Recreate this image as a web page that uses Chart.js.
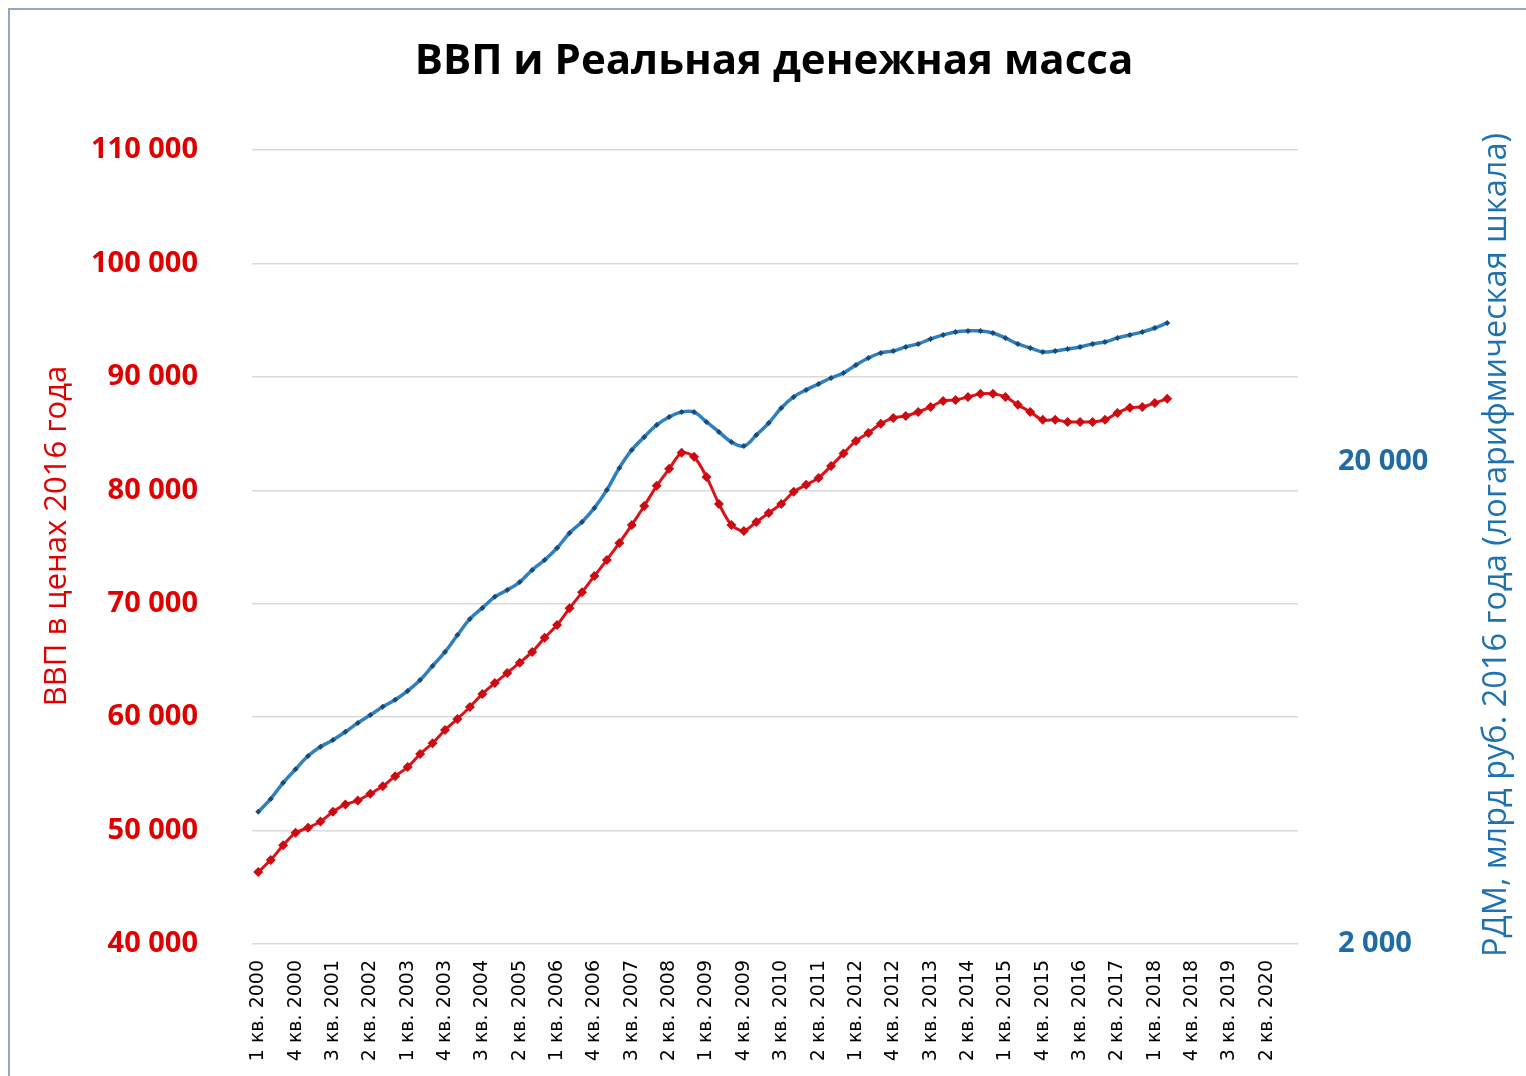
<!DOCTYPE html>
<html>
<head>
<meta charset="utf-8">
<script src="https://cdn.jsdelivr.net/npm/chart.js@4.4.1/dist/chart.umd.min.js"></script>
<style>
  html, body { margin: 0; padding: 0; background: #fff; }
  #wrap { position: relative; width: 1526px; height: 1076px; }
</style>
</head>
<body>
<div id="wrap"><canvas id="myChart" width="1526" height="1076"></canvas></div>
<script>
// quarters 1 кв. 2000 ... 4 кв. 2020
var years = [2000, 2001, 2002, 2003, 2004, 2005, 2006, 2007, 2008, 2009, 2010,
             2011, 2012, 2013, 2014, 2015, 2016, 2017, 2018, 2019, 2020];
var quarters = [];
years.forEach(function(y) {
  for (var q = 1; q <= 4; q++) quarters.push(q + ' кв. ' + y);
});

// ВВП, млрд руб. в ценах 2016 года (1 кв. 2000 - 2 кв. 2018)
var gdp = [
  46350, 47400, 48700, 49800, 50250, 50800, 51650, 52300, 52650, 53250,
  53900, 54800, 55600, 56750, 57700, 58870, 59840, 60900, 62050, 63000,
  63900, 64800, 65750, 67000, 68130, 69600, 71000, 72450, 73860, 75360,
  76950, 78620, 80390, 81890, 83300, 82950, 81180, 78800, 76950, 76420,
  77210, 78000, 78800, 79860, 80480, 81090, 82150, 83250, 84350, 85060,
  85860, 86380, 86560, 86900, 87350, 87880, 87970, 88230, 88500, 88500,
  88230, 87530, 86910, 86210, 86210, 86030, 86030, 86030, 86210, 86820,
  87270, 87350, 87700, 88060
];

// РДМ, млрд руб. 2016 года (логарифмическая шкала)
var rdm = [
  3760, 4000, 4320, 4610, 4910, 5130, 5300, 5510, 5750, 5970,
  6210, 6420, 6700, 7060, 7550, 8070, 8750, 9450, 9960, 10500,
  10850, 11270, 11940, 12520, 13260, 14250, 15020, 16060, 17500, 19440,
  21180, 22540, 23870, 24800, 25390, 25390, 24210, 23080, 22000, 21590,
  22750, 24090, 25880, 27290, 28210, 29030, 29880, 30600, 31790, 32870,
  33670, 33990, 34650, 35150, 36000, 36690, 37220, 37400, 37400, 37040,
  36170, 35150, 34480, 33830, 33990, 34320, 34650, 35150, 35480, 36170,
  36690, 37220, 37930, 38850
];

var leftTicks = [40000, 50000, 60000, 70000, 80000, 90000, 100000, 110000];
var rightTicks = [2000, 20000];

var RED = '#DC1219';
var BLUE = '#2E80C0';

function fmt(v) {
  return String(Math.round(v)).replace(/\B(?=(\d{3})+(?!\d))/g, ' ');
}

// frame, title and the two axis titles
var decor = {
  id: 'decor',
  afterDraw: function(chart) {
    var c = chart.ctx;
    c.save();
    c.strokeStyle = '#8EA9C1';
    c.lineWidth = 2;
    c.beginPath();
    c.moveTo(9, 1076);
    c.lineTo(9, 9);
    c.lineTo(1526, 9);
    c.stroke();

    c.fillStyle = '#000';
    c.textAlign = 'center';
    c.textBaseline = 'middle';
    c.font = 'bold 42px "Open Sans"';
    c.fillText('ВВП и Реальная денежная масса', 774, 62);
    c.restore();

    c.save();
    c.font = '31px "Open Sans"';
    c.textAlign = 'center';
    c.textBaseline = 'middle';
    c.fillStyle = '#E00000';
    c.translate(57, 536);
    c.rotate(-Math.PI / 2);
    c.fillText('ВВП в ценах 2016 года', 0, 0);
    c.restore();

    c.save();
    c.font = '32.5px "Open Sans"';
    c.textAlign = 'center';
    c.textBaseline = 'middle';
    c.fillStyle = '#1F72B0';
    c.translate(1497, 545);
    c.rotate(-Math.PI / 2);
    c.fillText('РДМ, млрд руб. 2016 года (логарифмическая шкала)', 0, 0);
    c.restore();
  }
};

var ctx = document.getElementById('myChart').getContext('2d');

var myChart = new Chart(ctx, {
  type: 'line',
  data: {
    labels: quarters,
    datasets: [{
      label: 'ВВП',
      data: gdp,
      yAxisID: 'y',
      borderColor: RED,
      backgroundColor: '#CC0A12',
      borderWidth: 3,
      pointStyle: 'rectRot',
      pointRadius: 5,
      pointBorderWidth: 0,
      pointBackgroundColor: '#CC0A12',
      tension: 0.3
    }, {
      label: 'РДМ',
      data: rdm,
      yAxisID: 'y1',
      borderColor: BLUE,
      backgroundColor: '#1A4A75',
      borderWidth: 3.5,
      pointStyle: 'rectRot',
      pointRadius: 3,
      pointBorderWidth: 0,
      pointBackgroundColor: '#1A4A75',
      tension: 0.4
    }]
  },
  options: {
    responsive: false,
    animation: false,
    layout: { padding: { top: 150, left: 0, right: 0, bottom: 0 } },
    plugins: {
      legend: { display: false },
      tooltip: { enabled: false },
      title: { display: false }
    },
    scales: {
      x: {
        offset: true,
        grid: { display: false, drawTicks: false },
        border: { display: false },
        ticks: {
          autoSkip: false,
          minRotation: 90,
          maxRotation: 90,
          padding: 16,
          color: '#000',
          font: { family: '"DejaVu Sans"', size: 19 },
          callback: function(value, index) {
            return index % 3 === 0 ? this.getLabelForValue(value) : '';
          }
        },
        afterFit: function(scale) { scale.height = 132; }
      },
      y: {
        position: 'left',
        min: 40000,
        max: 110000,
        grid: { color: '#D9D9D9', lineWidth: 1.5, drawTicks: false },
        border: { display: false },
        afterBuildTicks: function(scale) {
          scale.ticks = leftTicks.map(function(v) { return { value: v }; });
        },
        ticks: {
          padding: 54,
          color: '#E00000',
          font: { family: '"Open Sans"', size: 29, weight: 'bold' },
          callback: function(v) { return fmt(v); }
        },
        afterFit: function(scale) { scale.width = 252; }
      },
      y1: {
        type: 'logarithmic',
        position: 'right',
        min: 2000,
        max: 88760,
        grid: { display: false, drawTicks: false },
        border: { display: false },
        afterBuildTicks: function(scale) {
          scale.ticks = rightTicks.map(function(v) { return { value: v }; });
        },
        ticks: {
          padding: 40,
          color: '#1F6BA5',
          font: { family: '"Open Sans"', size: 29, weight: 'bold' },
          callback: function(v) { return fmt(v); }
        },
        afterFit: function(scale) { scale.width = 228; }
      }
    }
  },
  plugins: [decor]
});
</script>
</body>
</html>
